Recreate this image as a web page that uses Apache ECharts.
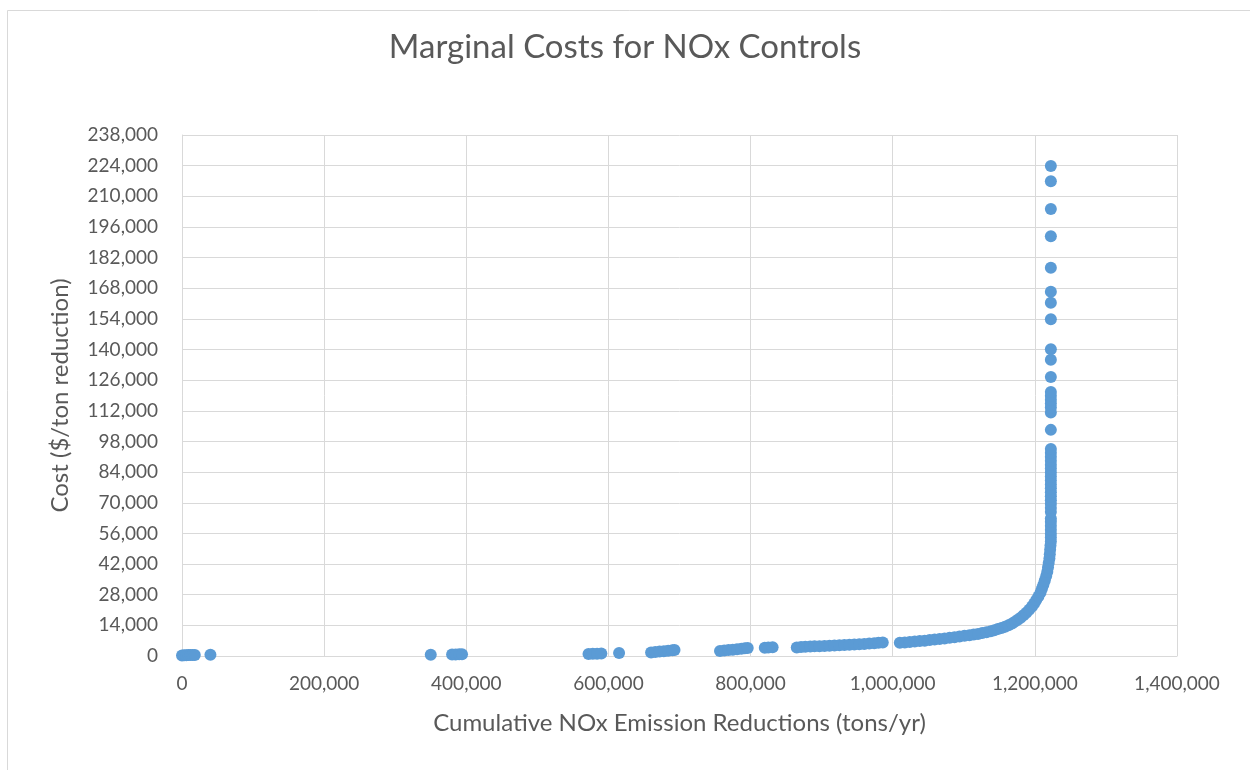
<!DOCTYPE html>
<html>
<head>
<meta charset="utf-8">
<script src="https://cdn.jsdelivr.net/npm/echarts@6/dist/echarts.min.js"></script>
<style>
  html, body { margin: 0; padding: 0; background: #ffffff; }
  #chart { width: 1250px; height: 770px; }
</style>
</head>
<body>
<div id="chart"></div>
<script>
// ---- Data ----
const chartTitle = 'Marginal Costs for NOx Controls';
const xAxisTitle = 'Cumulative NOx Emission Reductions (tons/yr)';
const yAxisTitle = 'Cost ($/ton reduction)';

const xMin = 0, xMax = 1400000, xStep = 200000;
const yMin = 0, yMax = 238000, yStep = 14000;

// Small clusters at low cumulative reductions
const nearZeroX = [0, 3000, 6000, 9000, 12000, 15000, 18000, 40000];
const nearZeroY = [200, 300, 300, 400, 400, 500, 500, 600];

const midLowX = [350000, 380000, 385000, 390000, 394000, 572000, 578000, 584000, 590000, 615000];
const midLowY = [600, 700, 700, 800, 800, 900, 1000, 1000, 1100, 1400];

const clusterAX = [660000, 666000, 672000, 678000, 684000, 690000, 693000];
const clusterAY = [1600, 1800, 2000, 2200, 2400, 2600, 2700];

const clusterBX = [757000, 763000, 769000, 775000, 781000, 787000, 792000, 796000, 820000, 825000, 831000];
const clusterBY = [2300, 2500, 2700, 2900, 3100, 3300, 3500, 3700, 3800, 3900, 4000];

const clusterDX = [865000, 871000, 877000, 884000, 890000, 897000, 904000, 911000, 918000, 925000,
                   932000, 939000, 946000, 953000, 960000, 967000, 974000, 980000, 986000];
const clusterDY = [3900, 4100, 4200, 4300, 4400, 4500, 4600, 4700, 4800, 4900,
                   5000, 5100, 5300, 5400, 5500, 5700, 5800, 6000, 6200];

// Rising curve beyond 1,000,000
const curveX = [1010000, 1017000, 1024000, 1031000, 1038000, 1045000, 1052000, 1059000, 1066000, 1073000,
                1080000, 1087000, 1094000, 1101000, 1108000, 1114000, 1120000, 1126000, 1132000, 1138000,
                1143000, 1148000, 1153000, 1158000, 1163000, 1168000, 1172000, 1176000, 1180000, 1184000,
                1188000, 1192000, 1196000, 1199000, 1202000, 1205000, 1208000, 1210000, 1212000, 1214000,
                1216000, 1217500, 1218500, 1219500, 1220500, 1221000, 1221500];
const curveY = [6000, 6200, 6400, 6600, 6800, 7000, 7300, 7500, 7800, 8000,
                8300, 8600, 8900, 9200, 9500, 9800, 10100, 10500, 10900, 11300,
                11800, 12300, 12800, 13400, 14100, 14900, 15700, 16600, 17500, 18600,
                19800, 21100, 22600, 24000, 25600, 27200, 29000, 30800, 32600, 34500,
                36500, 38500, 40500, 42500, 44500, 46500, 48500];

// Near-vertical column at ~1,222,500
const columnX = [1222000, 1222500, 1222500, 1222500, 1222500, 1222500, 1222500, 1222500,
                 1222500, 1222500, 1222500, 1222500, 1222500, 1222500, 1222500, 1222500,
                 1222500, 1222500, 1222500, 1222500, 1222500, 1222500, 1222500, 1222500, 1222500,
                 1222500, 1222500, 1222500, 1222500, 1222500, 1222500, 1222500,
                 1222500, 1222500, 1222500, 1222500, 1222500, 1222500, 1222500, 1222500,
                 1222500, 1222500, 1222500];
const columnY = [50500, 52300, 54100, 55900, 57700, 59500, 61300, 62800,
                 65800, 67600, 69400, 71200, 73000, 74800, 76600, 78400,
                 80200, 82000, 83800, 85600, 87400, 89200, 91000, 92800, 94600,
                 103300, 111200, 113500, 115300, 117100, 118900, 120600,
                 127400, 135300, 140100, 153800, 161400, 166400, 177400, 191700,
                 204200, 216900, 223800];

// ---- Build options ----
function pairs(xs, ys) { return xs.map((x, i) => [x, ys[i]]); }
const points = [].concat(
  pairs(nearZeroX, nearZeroY),
  pairs(midLowX, midLowY),
  pairs(clusterAX, clusterAY),
  pairs(clusterBX, clusterBY),
  pairs(clusterDX, clusterDY),
  pairs(curveX, curveY),
  pairs(columnX, columnY)
);

const textColor = '#595959';
const gridColor = '#d9d9d9';
const fontFamily = 'Lato, "Open Sans", sans-serif';
const fmt = v => v.toLocaleString('en-US');

const chart = echarts.init(document.getElementById('chart'), null, { renderer: 'canvas' });
chart.setOption({
  backgroundColor: '#ffffff',
  animation: false,
  textStyle: { fontFamily: fontFamily },
  graphic: [{
    type: 'rect',
    shape: { x: 7.5, y: 10.5, width: 1300, height: 800 },
    style: { fill: 'none', stroke: gridColor, lineWidth: 1 },
    silent: true
  }],
  title: {
    text: chartTitle,
    left: 'center',
    top: 26,
    textStyle: { fontFamily: fontFamily, fontSize: 33, fontWeight: 'normal', color: textColor }
  },
  grid: { left: 182, right: 73, top: 135, bottom: 114, containLabel: false },
  xAxis: {
    type: 'value',
    min: xMin, max: xMax, interval: xStep,
    name: xAxisTitle,
    nameLocation: 'middle',
    nameGap: 55,
    nameTextStyle: { fontFamily: fontFamily, fontSize: 24, color: textColor },
    axisLine: { show: true, lineStyle: { color: gridColor, width: 1 } },
    axisTick: { show: false },
    axisLabel: { color: textColor, fontSize: 19, margin: 18, formatter: fmt, fontFamily: fontFamily },
    splitLine: { show: true, lineStyle: { color: gridColor, width: 1 } }
  },
  yAxis: {
    type: 'value',
    min: yMin, max: yMax, interval: yStep,
    name: yAxisTitle,
    nameLocation: 'middle',
    nameGap: 110,
    nameTextStyle: { fontFamily: fontFamily, fontSize: 24, color: textColor },
    axisLine: { show: true, lineStyle: { color: gridColor, width: 1 } },
    axisTick: { show: false },
    axisLabel: { color: textColor, fontSize: 19, margin: 24, formatter: fmt, fontFamily: fontFamily },
    splitLine: { show: true, lineStyle: { color: gridColor, width: 1 } }
  },
  series: [{
    type: 'scatter',
    data: points,
    symbol: 'circle',
    symbolSize: 12,
    itemStyle: { color: '#5B9BD5', opacity: 1 },
    silent: true
  }]
});
</script>
</body>
</html>
